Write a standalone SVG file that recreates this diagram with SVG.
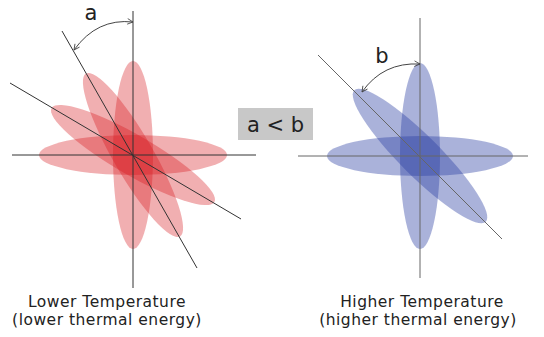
<svg xmlns="http://www.w3.org/2000/svg" width="544" height="337" viewBox="0 0 544 337">
<style>
.red{fill:rgb(215,20,25);fill-opacity:0.34}
.blue{fill:rgb(43,63,163);fill-opacity:0.4}
.axL{stroke:#333;stroke-width:1;fill:none}
.axR{stroke:#666;stroke-width:1;fill:none}
.arc{stroke:#444;stroke-width:1;fill:none;marker-start:url(#ah);marker-end:url(#ah)}
.lbl{font-family:"DejaVu Sans",Verdana,sans-serif;fill:#222}
.cap{font-family:"DejaVu Sans",Verdana,sans-serif;font-size:15.5px;letter-spacing:0.5px;fill:#222;text-anchor:middle}
</style>
<defs>
<marker id="ah" viewBox="0 0 10 10" refX="9" refY="5" markerWidth="7" markerHeight="7" orient="auto-start-reverse" markerUnits="userSpaceOnUse">
<path d="M1,1 L9,5 L1,9" fill="none" stroke="#444" stroke-width="1.2"/>
</marker>
</defs>
<rect width="544" height="337" fill="#fff"/>
<g id="left">
<ellipse class="red" cx="133" cy="155" rx="94" ry="20"/>
<ellipse class="red" cx="133" cy="155" rx="94" ry="20" transform="rotate(90 133 155)"/>
<ellipse class="red" cx="133" cy="155" rx="94" ry="20" transform="rotate(60 133 155)"/>
<ellipse class="red" cx="133" cy="155" rx="94" ry="20" transform="rotate(30 133 155)"/>
</g>
<g id="right">
<ellipse class="blue" cx="420" cy="156" rx="93" ry="20"/>
<ellipse class="blue" cx="420" cy="156" rx="93" ry="20" transform="rotate(90 420 156)"/>
<ellipse class="blue" cx="420" cy="156" rx="93" ry="20" transform="rotate(45 420 156)"/>
</g>
<g id="connectors">
<line class="axL" x1="133" y1="11" x2="133" y2="288"/>
<line class="axL" x1="12" y1="155" x2="256" y2="155"/>
<line class="axL" x1="62" y1="31" x2="197" y2="268"/>
<line class="axL" x1="10" y1="83" x2="241" y2="219"/>
<path class="arc" d="M74,50 Q97,18 133,22"/>
<line class="axR" x1="420" y1="18" x2="420" y2="278"/>
<line class="axR" x1="298" y1="156" x2="528" y2="156"/>
<line class="axR" x1="318" y1="55" x2="502" y2="239"/>
<path class="arc" d="M362,92 Q383,62 420,64"/>
</g>
<g id="labelA"><text class="lbl" x="91" y="20" font-size="21" text-anchor="middle">a</text></g>
<g id="labelB"><text class="lbl" x="382" y="63" font-size="21" text-anchor="middle">b</text></g>
<g id="compare">
<rect x="238" y="108" width="75" height="32" fill="#c8c8c8"/>
<text class="lbl" x="275.5" y="132" font-size="21" text-anchor="middle">a &lt; b</text>
</g>
<g id="captionL">
<text class="cap" x="107" y="307">Lower Temperature</text>
<text class="cap" x="107" y="325">(lower thermal energy)</text>
</g>
<g id="captionR">
<text class="cap" x="422" y="307">Higher Temperature</text>
<text class="cap" x="418" y="325">(higher thermal energy)</text>
</g>
</svg>
